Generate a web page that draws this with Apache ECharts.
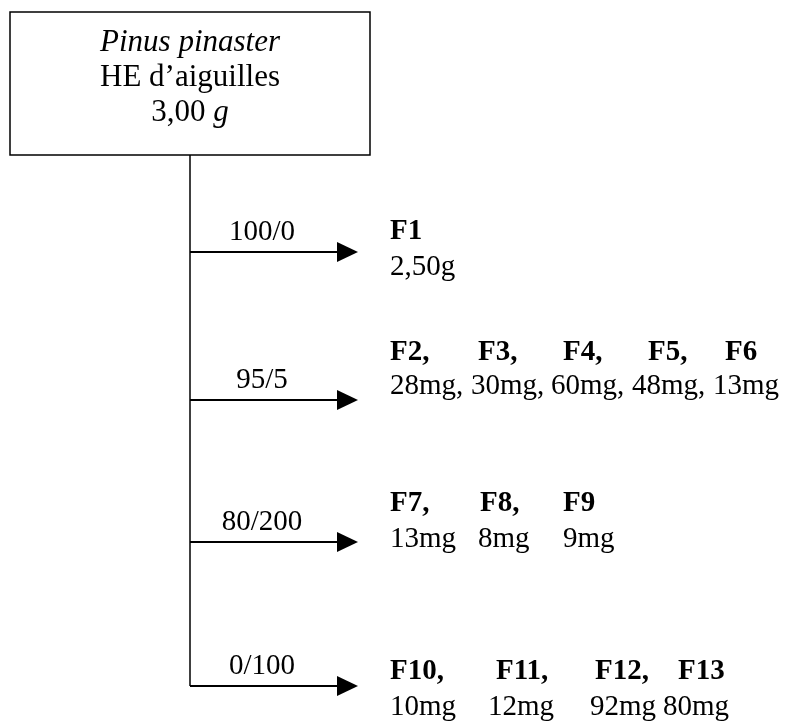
<!DOCTYPE html>
<html><head><meta charset="utf-8">
<script src="https://cdn.jsdelivr.net/npm/echarts@6/dist/echarts.min.js"></script>
<style>html,body{margin:0;padding:0;background:#fff}#c{width:786px;height:722px}</style>
</head><body><div id="c"></div>
<script>
// ---- data ----
const sourceLines = ['Pinus pinaster', 'HE d\u2019aiguilles', '3,00 g'];
const solventRatios = ['100/0', '95/5', '80/200', '0/100'];
const fractionNames = [['F1'], ['F2', 'F3', 'F4', 'F5', 'F6'], ['F7', 'F8', 'F9'], ['F10', 'F11', 'F12', 'F13']];
const fractionMasses = [['2,50g'], ['28mg', '30mg', '60mg', '48mg', '13mg'], ['13mg', '8mg', '9mg'], ['10mg', '12mg', '92mg', '80mg']];
const massCommaGroups = [1];

// ---- layout (pixel space of the hidden axes) ----
const FONT = "'Liberation Serif','Times New Roman',serif";
const FS = 29;
const BOX = { x0: 10, y0: 12, x1: 370, y1: 155, cx: 190, lineY: [43, 78, 113], fs: 31 };
const TRUNK_X = 190;
const ARROW_Y = [252, 400, 542, 686];
const ARROW_TIP = 358, HEAD_LEN = 21, HEAD_HALF = 10;
const LABEL_X = 262;
const LABEL_Y = [232, 380, 522, 666];
const NAME_Y = [232, 353, 504, 672];
const MASS_Y = [267, 386, 539, 707];
const NAME_X = [[390], [390, 478, 563, 648, 725], [390, 480, 563], [390, 496, 595, 678]];
const MASS_X = [[390], [390, 471, 551, 632, 713], [390, 478, 563], [390, 488, 590, 663]];

const chart = echarts.init(document.getElementById('c'), null, { renderer: 'canvas' });

const nameData = [], massData = [];
fractionNames.forEach((g, gi) => g.forEach((n, i) => nameData.push([gi, i])));
fractionMasses.forEach((g, gi) => g.forEach((m, i) => massData.push([gi, i])));

function txt(api, x, y, text, opts) {
  const p = api.coord([x, y]);
  return {
    type: 'text',
    style: Object.assign({
      x: p[0], y: p[1], text: text,
      font: FS + 'px ' + FONT,
      fill: '#000', textAlign: 'left', textVerticalAlign: 'middle'
    }, opts || {})
  };
}

const option = {
  animation: false,
  backgroundColor: '#fff',
  grid: { left: 0, right: 0, top: 0, bottom: 0 },
  xAxis: { type: 'value', min: 0, max: 786, show: false },
  yAxis: { type: 'value', min: 0, max: 722, inverse: true, show: false },
  series: [
    { // source box
      type: 'custom', coordinateSystem: 'cartesian2d', data: [[0, 0]],
      renderItem: function (params, api) {
        const a = api.coord([BOX.x0, BOX.y0]), b = api.coord([BOX.x1, BOX.y1]);
        const parts = sourceLines[2].split(' ');
        const f = BOX.fs + 'px ' + FONT;
        return {
          type: 'group', children: [
            { type: 'rect', shape: { x: a[0], y: a[1], width: b[0] - a[0], height: b[1] - a[1] },
              style: { fill: '#fff', stroke: '#000', lineWidth: 1.5 } },
            txt(api, BOX.cx, BOX.lineY[0], sourceLines[0], { font: 'italic ' + f, textAlign: 'center' }),
            txt(api, BOX.cx, BOX.lineY[1], sourceLines[1], { font: f, textAlign: 'center' }),
            txt(api, BOX.cx, BOX.lineY[2], '{r|' + parts[0] + ' }{i|' + parts[1] + '}', {
              font: f, textAlign: 'center',
              rich: { r: { font: f, fill: '#000' }, i: { font: 'italic ' + f, fill: '#000' } }
            })
          ]
        };
      }
    },
    { // trunk
      type: 'custom', coordinateSystem: 'cartesian2d', data: [[0, 0]],
      renderItem: function (params, api) {
        const a = api.coord([TRUNK_X, BOX.y1]), b = api.coord([TRUNK_X, ARROW_Y[ARROW_Y.length - 1]]);
        return { type: 'line', shape: { x1: a[0], y1: a[1], x2: b[0], y2: b[1] }, style: { stroke: '#000', lineWidth: 1.5 } };
      }
    },
    { // arrows + solvent ratio labels
      type: 'custom', coordinateSystem: 'cartesian2d',
      data: solventRatios.map((r, i) => [i, 0]),
      renderItem: function (params, api) {
        const i = api.value(0);
        const y = ARROW_Y[i];
        const s = api.coord([TRUNK_X, y]), e = api.coord([ARROW_TIP - HEAD_LEN, y]);
        const t = api.coord([ARROW_TIP, y]);
        const h1 = api.coord([ARROW_TIP - HEAD_LEN, y - HEAD_HALF]), h2 = api.coord([ARROW_TIP - HEAD_LEN, y + HEAD_HALF]);
        return {
          type: 'group', children: [
            { type: 'line', shape: { x1: s[0], y1: s[1], x2: e[0], y2: e[1] }, style: { stroke: '#000', lineWidth: 2 } },
            { type: 'polygon', shape: { points: [t, h1, h2] }, style: { fill: '#000' } },
            txt(api, LABEL_X, LABEL_Y[i], solventRatios[i], { textAlign: 'center' })
          ]
        };
      }
    },
    { // fraction names
      type: 'custom', coordinateSystem: 'cartesian2d', data: nameData,
      renderItem: function (params, api) {
        const g = api.value(0), i = api.value(1);
        const last = i === fractionNames[g].length - 1;
        return txt(api, NAME_X[g][i], NAME_Y[g], fractionNames[g][i] + (last ? '' : ','), { font: 'bold ' + FS + 'px ' + FONT });
      }
    },
    { // fraction masses
      type: 'custom', coordinateSystem: 'cartesian2d', data: massData,
      renderItem: function (params, api) {
        const g = api.value(0), i = api.value(1);
        const last = i === fractionMasses[g].length - 1;
        const comma = massCommaGroups.indexOf(g) >= 0 && !last;
        return txt(api, MASS_X[g][i], MASS_Y[g], fractionMasses[g][i] + (comma ? ',' : ''));
      }
    }
  ]
};
chart.setOption(option);
</script>
</body></html>
